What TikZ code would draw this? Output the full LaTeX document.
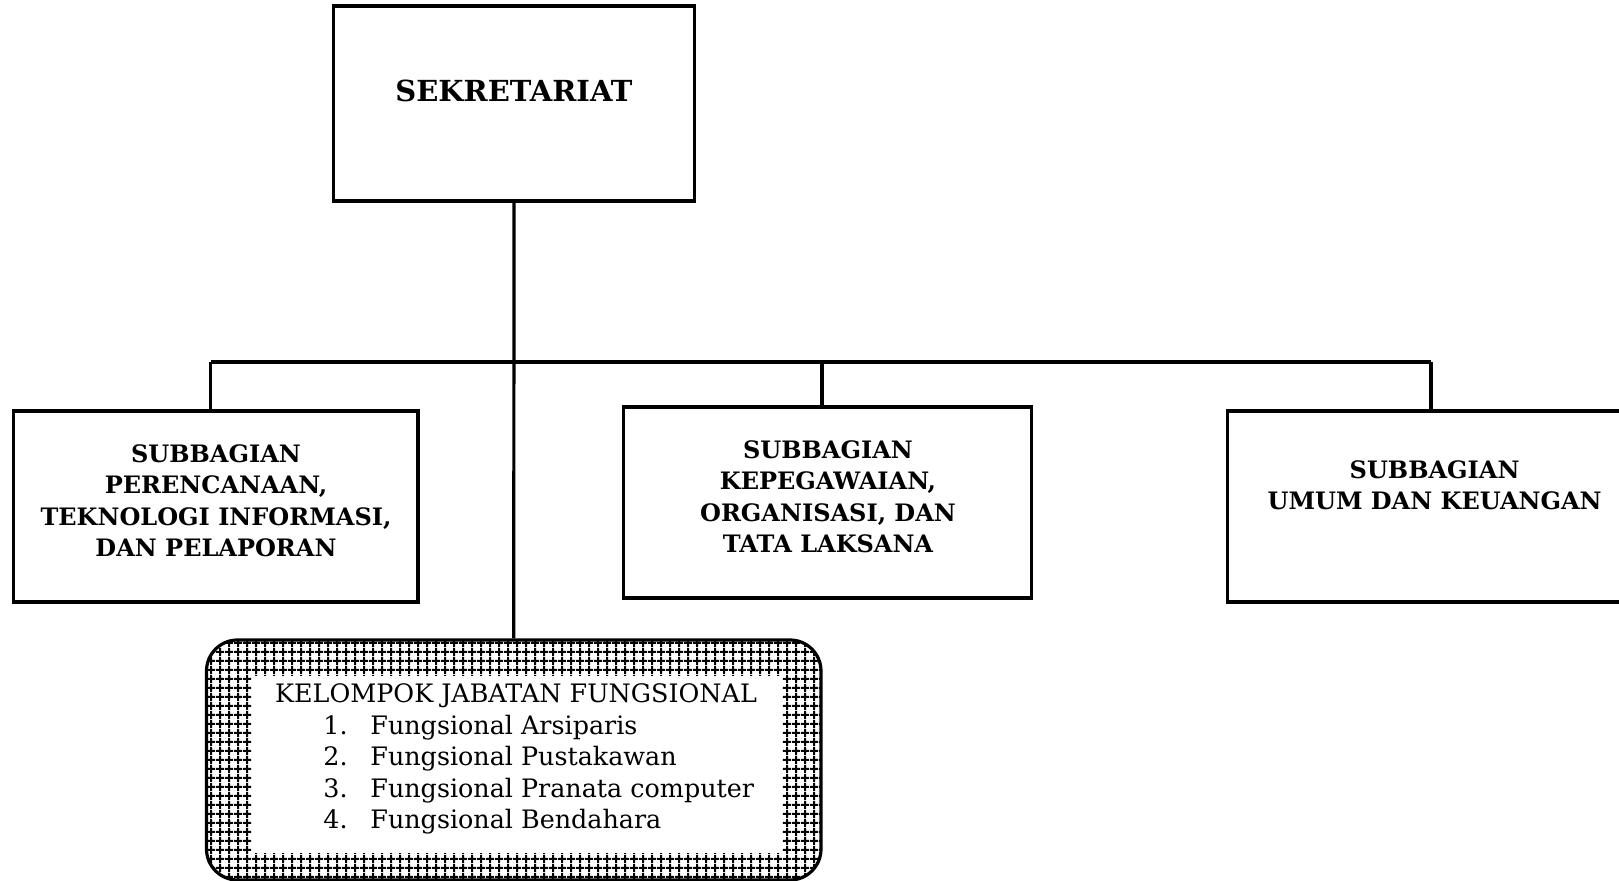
\documentclass[tikz,border=0pt]{standalone}
\usepackage{fontspec}
\setmainfont{DejaVu Serif}
\usetikzlibrary{patterns.meta}

% grid fill of the functional group box
\tikzdeclarepattern{
  name=fgrid,
  bounding box={(0,0) and (4.5pt,4.5pt)},
  tile size={(4.5pt,4.5pt)},
  code={
    \draw[line width=1.1pt] (0,2.25pt) -- (4.5pt,2.25pt);
    \draw[line width=1.1pt] (2.25pt,0) -- (2.25pt,4.5pt);
  }
}

\begin{document}
\begin{tikzpicture}[x=0.5pt,y=-0.5pt,
    unit/.style={draw, line width=1.7pt, inner sep=0pt},
    unittext/.style={font=\fontsize{12}{15.75}\selectfont\bfseries, align=center, inner sep=0pt},
    itemtext/.style={font=\fontsize{12.7}{15.75}\selectfont, inner sep=0pt},
    link/.style={line width=1.6pt}]
    % Frame
    \clip (0,0) rectangle (1619,881);

    % Boxes
    \node[unit, minimum width=180.75pt, minimum height=97.5pt] (sek) at (514,103.5) {};
    \node[unit, minimum width=202.3pt, minimum height=95.5pt] (sub1) at (215.7,506.5) {};
    \node[unit, minimum width=204pt, minimum height=95.5pt] (sub2) at (827.5,502.5) {};
    \node[unit, minimum width=204pt, minimum height=95.5pt] (sub3) at (1431.6,506.5) {};

    % Texts
    \node[unittext, font=\fontsize{14.5}{15.75}\selectfont\bfseries] (sekt) at (514,91) {SEKRETARIAT};
    \node[unittext] (sub1t) at (216,501) {SUBBAGIAN\\PERENCANAAN,\\TEKNOLOGI INFORMASI,\\DAN PELAPORAN};
    \node[unittext] (sub2t) at (828,497) {SUBBAGIAN\\KEPEGAWAIAN,\\ORGANISASI, DAN\\TATA LAKSANA};
    \node[unittext] (sub3t) at (1434.6,485.5) {SUBBAGIAN\\UMUM DAN KEUANGAN};

    % Functional group
    \node[draw, line width=1.6pt, rounded corners=15.5pt, pattern=fgrid,
          minimum width=307.25pt, minimum height=120pt] (jf) at (513.75,760) {};
    \node[fill=white, inner sep=0pt, minimum width=264.8pt, minimum height=88.5pt] (jfin) at (516.8,764.5) {};
    \node[itemtext] (jft) at (516,696) {KELOMPOK JABATAN FUNGSIONAL};
    \foreach \t [count=\i] in {Fungsional Arsiparis, Fungsional Pustakawan,
        Fungsional Pranata computer, Fungsional Bendahara}
    {
      \node[itemtext, anchor=mid west] (no\i) at (323,{729+31.5*(\i-1)}) {\i.};
      \node[itemtext, anchor=mid west] (it\i) at (370,{729+31.5*(\i-1)}) {\t};
    }

    % Lines
    \coordinate (b1) at (210.6,362);
    \coordinate (b2) at (822,362);
    \coordinate (b3) at (1431,362);
    \draw[link] (sek.south) -- (jf.north);
    \draw[link] (b1) -- (b3);
    \draw[link] (b1) -- (b1 |- sub1.north);
    \draw[link] (b2) -- (b2 |- sub2.north);
    \draw[link] (b3) -- (b3 |- sub3.north);
\end{tikzpicture}
\end{document}
